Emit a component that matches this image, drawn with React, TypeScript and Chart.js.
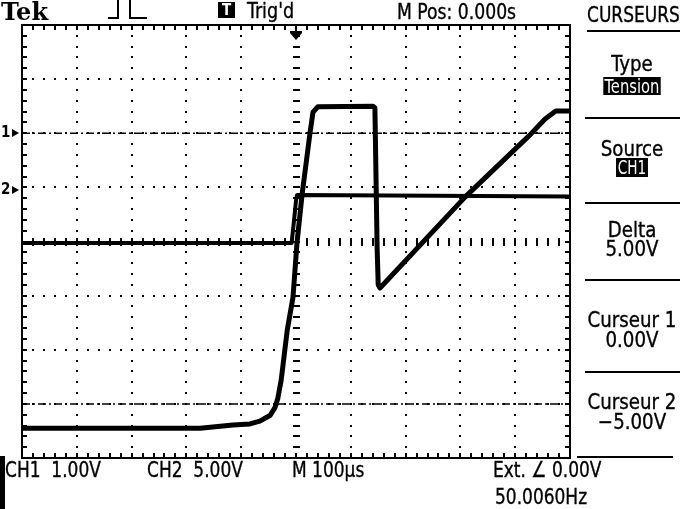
import React, { useEffect, useRef } from "react";
import { Chart, registerables } from "chart.js";

Chart.register(...registerables);

// ---- Data (time in µs, 100 µs/div; vertical position in screen divisions) ----
const ch1TimeUs = [-500, -175, -115, -84, -66, -47, -38, -33, -27, -16, -5.5, 1.8, 11, 25.5, 31, 40, 140.5, 144, 148, 150, 153.3, 308.4, 427, 454, 474, 500];
const ch1Div = [-3.45, -3.45, -3.39, -3.37, -3.32, -3.21, -3.06, -2.89, -2.56, -1.64, -1.03, -0.03, 0.86, 2.0, 2.39, 2.49, 2.5, 2.47, -0.1, -0.8, -0.86, 0.82, 1.97, 2.26, 2.41, 2.41];
const ch2TimeUs = [-500, -8, -4, 0, 2, 500];
const ch2Div = [-0.03, -0.03, 0.35, 0.75, 0.86, 0.83];
const cursorDiv = [2.0, -3.0];
const markerLabels = ["1", "2"];
const markerDiv = [2.0, 0.95];
const triggerTimeUs = 0;
const timeRangeUs = [-500, 500];
const divRange = [-4, 4];
const menuTitles = ["Type", "Source", "Delta", "Curseur 1", "Curseur 2"];
const menuValues = ["Tension", "CH1", "5.00V", "0.00V", "\u22125.00V"];

const FONT = "'DejaVu Sans Condensed', 'DejaVu Sans', sans-serif";

const graticule = {
  id: "graticule",
  beforeDatasetsDraw(chart: any) {
    const { ctx, chartArea: a, scales } = chart;
    const x = scales.x;
    const y = scales.y;
    ctx.save();
    ctx.fillStyle = "#000";
    const minorX: number[] = [];
    for (let i = 0; i <= 50; i++) minorX.push(Math.round(x.getPixelForValue(-500 + 20 * i)));
    const minorY: number[] = [];
    for (let i = 0; i <= 40; i++) minorY.push(Math.round(y.getPixelForValue(-4 + 0.2 * i)));
    for (let k = 1; k <= 9; k++) {
      if (k === 5) continue;
      const px = Math.round(x.getPixelForValue(-500 + 100 * k));
      for (let j = 1; j < minorY.length - 1; j++) ctx.fillRect(px - 1, minorY[j] - 1, 2, 2);
    }
    for (let k = 1; k <= 7; k++) {
      if (k === 4) continue;
      const py = Math.round(y.getPixelForValue(-4 + k));
      for (let j = 1; j < minorX.length - 1; j++) ctx.fillRect(minorX[j] - 1, py - 1, 2, 2);
    }
    const cx = Math.round(x.getPixelForValue(0));
    const cy = Math.round(y.getPixelForValue(0));
    for (let j = 1; j < minorY.length - 1; j++) ctx.fillRect(cx - 3, minorY[j] - 1, 7, 2);
    for (let j = 1; j < minorX.length - 1; j++) ctx.fillRect(minorX[j] - 1, cy - 4, 2, 8);
    ctx.fillRect(a.left - 1, a.top - 1, 2, a.bottom - a.top + 2);
    ctx.fillRect(a.right - 1, a.top - 1, 2, a.bottom - a.top + 2);
    ctx.fillRect(a.left - 1, a.top - 1, a.right - a.left + 2, 2);
    ctx.fillRect(a.left - 1, a.bottom - 1, a.right - a.left + 2, 2);
    for (let j = 1; j < minorY.length - 1; j++) {
      ctx.fillRect(a.left, minorY[j] - 1, 5, 2);
      ctx.fillRect(a.right - 5, minorY[j] - 1, 5, 2);
    }
    for (let j = 1; j < minorX.length - 1; j++) {
      ctx.fillRect(minorX[j] - 1, a.top, 2, 5);
      ctx.fillRect(minorX[j] - 1, a.bottom - 5, 2, 5);
    }
    ctx.restore();
  },
  afterDraw(chart: any) {
    const { ctx, chartArea: a, scales } = chart;
    const x = scales.x;
    const y = scales.y;
    ctx.save();
    ctx.fillStyle = "#000";
    const tx = Math.round(x.getPixelForValue(triggerTimeUs));
    ctx.fillRect(tx - 1, a.top, 2, 7);
    ctx.fillRect(tx - 6, a.top + 6, 12, 2);
    ctx.beginPath();
    ctx.moveTo(tx - 6, a.top + 8);
    ctx.lineTo(tx + 6, a.top + 8);
    ctx.lineTo(tx, a.top + 15);
    ctx.closePath();
    ctx.fill();
    ctx.font = `bold 15px ${FONT}`;
    ctx.textBaseline = "middle";
    ctx.textAlign = "left";
    markerLabels.forEach((lab, i) => {
      const py = Math.round(y.getPixelForValue(markerDiv[i]));
      ctx.fillText(lab, 1, py);
      ctx.beginPath();
      ctx.moveTo(12, py - 4);
      ctx.lineTo(12, py + 4);
      ctx.lineTo(19, py);
      ctx.closePath();
      ctx.fill();
    });
    ctx.restore();
  },
};

function Txt(props: any) {
  const { x, y, size = 22, sx = 0.86, children, style } = props;
  return (
    <div
      style={{
        position: "absolute",
        left: x,
        top: y - Math.round(size * 0.12),
        fontFamily: FONT,
        fontStretch: "condensed",
        fontSize: size,
        lineHeight: `${size}px`,
        whiteSpace: "pre",
        transform: `scaleX(${sx})`,
        transformOrigin: "left top",
        color: "#000",
        WebkitTextStroke: "0.35px #000",
        ...style,
      }}
    >
      {children}
    </div>
  );
}

function MenuTxt(props: any) {
  const { y, size = 22, sx = 0.92, children } = props;
  return (
    <div
      style={{
        position: "absolute",
        left: 582,
        width: 100,
        top: y - Math.round(size * 0.12),
        textAlign: "center",
        fontFamily: FONT,
        fontStretch: "condensed",
        fontSize: size,
        lineHeight: `${size}px`,
        whiteSpace: "pre",
        transform: `scaleX(${sx})`,
        transformOrigin: "center top",
        color: "#000",
        WebkitTextStroke: "0.35px #000",
      }}
    >
      {children}
    </div>
  );
}

function MenuBox(props: any) {
  const { y, h = 18, size = 20, sx = 0.82, children } = props;
  return (
    <div
      style={{
        position: "absolute",
        left: 582,
        width: 100,
        top: y,
        height: h,
        textAlign: "center",
        transform: `scaleX(${sx})`,
        transformOrigin: "center top",
      }}
    >
      <span
        style={{
          display: "inline-block",
          height: h,
          lineHeight: `${h}px`,
          padding: "0 2px",
          background: "#000",
          color: "#fff",
          fontFamily: FONT,
          fontStretch: "condensed",
          fontSize: size,
          whiteSpace: "pre",
          verticalAlign: "top",
        }}
      >
        {children}
      </span>
    </div>
  );
}

const Rule = ({ x, y, w, h = 2 }: any) => (
  <div style={{ position: "absolute", left: x, top: y, width: w, height: h, background: "#000" }} />
);

export default function App() {
  const canvasRef = useRef<HTMLCanvasElement | null>(null);

  useEffect(() => {
    if (!canvasRef.current) return;
    const lineDs = (label: string, xs: number[], ys: number[], width: number) => ({
      label,
      data: xs.map((t, i) => ({ x: t, y: ys[i] })),
      showLine: true,
      borderColor: "#000",
      backgroundColor: "#000",
      borderWidth: width,
      pointRadius: 0,
      borderJoinStyle: "round" as const,
      borderCapStyle: "round" as const,
      tension: 0,
    });
    const cursorDs = cursorDiv.map((v, i) => ({
      label: `Curseur ${i + 1}`,
      data: [
        { x: timeRangeUs[0], y: v },
        { x: timeRangeUs[1], y: v },
      ],
      showLine: true,
      borderColor: "#000",
      borderWidth: 1.5,
      borderDash: [8, 3, 2, 3],
      pointRadius: 0,
    }));
    const chart = new Chart(canvasRef.current, {
      type: "scatter",
      data: {
        datasets: [
          ...cursorDs,
          lineDs("CH2", ch2TimeUs, ch2Div, 4),
          lineDs("CH1", ch1TimeUs, ch1Div, 5),
        ],
      },
      options: {
        animation: false,
        responsive: false,
        devicePixelRatio: 1,
        layout: { padding: { left: 22, top: 25, right: 110, bottom: 51 } },
        plugins: { legend: { display: false }, tooltip: { enabled: false }, title: { display: false } },
        scales: {
          x: { type: "linear", min: timeRangeUs[0], max: timeRangeUs[1], display: false },
          y: { type: "linear", min: divRange[0], max: divRange[1], display: false },
        },
        events: [],
      },
      plugins: [graticule],
    });
    return () => chart.destroy();
  }, []);

  return (
    <div style={{ position: "fixed", left: 0, top: 0, width: 680, height: 509, background: "#fff", overflow: "hidden" }}>
      <canvas ref={canvasRef} width={680} height={509} style={{ position: "absolute", left: 0, top: 0, width: 680, height: 509 }} />
      <div
        style={{
          position: "absolute",
          left: 1,
          top: 0,
          fontFamily: "'DejaVu Serif', serif",
          fontWeight: "bold",
          fontSize: 24,
          lineHeight: "24px",
          color: "#000",
        }}
      >
        Tek
      </div>
      <div style={{ position: "absolute", left: 108, top: 0, width: 9, height: 17, borderRight: "2px solid #000", borderBottom: "2px solid #000" }} />
      <div style={{ position: "absolute", left: 129, top: 0, width: 16, height: 17, borderLeft: "2px solid #000", borderBottom: "2px solid #000" }} />
      <div
        style={{
          position: "absolute",
          left: 218,
          top: 2,
          width: 17,
          height: 16,
          background: "#000",
          color: "#fff",
          fontFamily: FONT,
          fontWeight: "bold",
          fontSize: 15,
          lineHeight: "16px",
          textAlign: "center",
        }}
      >
        T
      </div>
      <Txt x={247} y={3} sx={0.89}>Trig'd</Txt>
      <Txt x={397} y={4} sx={0.87}>M Pos: 0.000s</Txt>
      <Txt x={587} y={7}>CURSEURS</Txt>
      <Rule x={587} y={30} w={93} />
      <MenuTxt y={56}>{menuTitles[0]}</MenuTxt>
      <MenuBox y={77}>{menuValues[0]}</MenuBox>
      <Rule x={585} y={117} w={95} />
      <MenuTxt y={141}>{menuTitles[1]}</MenuTxt>
      <MenuBox y={158} h={19} sx={0.76}>{menuValues[1]}</MenuBox>
      <Rule x={585} y={202} w={95} />
      <MenuTxt y={222}>{menuTitles[2]}</MenuTxt>
      <MenuTxt y={241}>{menuValues[2]}</MenuTxt>
      <Rule x={585} y={279} w={95} />
      <MenuTxt y={312}>{menuTitles[3]}</MenuTxt>
      <MenuTxt y={332}>{menuValues[3]}</MenuTxt>
      <Rule x={585} y={371} w={95} />
      <MenuTxt y={394}>{menuTitles[4]}</MenuTxt>
      <MenuTxt y={414}>{menuValues[4]}</MenuTxt>
      <Rule x={577} y={456} w={96} />
      <Txt x={5} y={462}>CH1  1.00V</Txt>
      <Txt x={147} y={462}>CH2  5.00V</Txt>
      <Txt x={292} y={462}>M 100µs</Txt>
      <Txt x={493} y={462}>Ext. ∠ 0.00V</Txt>
      <Txt x={495} y={489}>50.0060Hz</Txt>
      <div style={{ position: "absolute", left: 0, top: 456, width: 5, height: 53, background: "#000" }} />
    </div>
  );
}
